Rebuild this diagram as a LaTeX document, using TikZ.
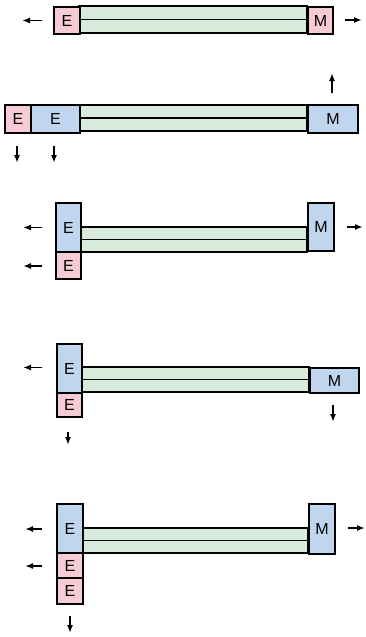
\documentclass[tikz,border=0pt]{standalone}
\usepackage{fontspec}
\setmainfont{Liberation Sans}
\usetikzlibrary{arrows.meta}
\definecolor{pinkE}{HTML}{F6CBD6}
\definecolor{blueE}{HTML}{C0D6EF}
\definecolor{greenB}{HTML}{D7EADB}
\tikzset{
  box/.style={draw=black, line width=2.1pt, inner sep=0pt, anchor=north west, font=\fontsize{16}{16}\selectfont},
  pinkbox/.style={box, fill=pinkE},
  bluebox/.style={box, fill=blueE},
  barfill/.style={fill=greenB, draw=black, line width=1.9pt},
  barmid/.style={draw=black, line width=1.9pt},
  force/.style={draw=black, line width=1.6pt, -{Latex[length=8pt,width=6pt]}}
}
\begin{document}
\begin{tikzpicture}[x=1pt,y=-1pt]
\useasboundingbox (0,0) rectangle (366,637);
% ---------- Panel 1 ----------
\draw[barfill] (79,6) rectangle (307,33);
\draw[barmid] (79,19.5) -- (307,19.5);
\node[pinkbox, minimum width=26pt, minimum height=27pt] (a1) at (53,6) {E};
\node[pinkbox, minimum width=25pt, minimum height=27pt] (am) at (307,6) {M};
\coordinate (a1s) at (42,20.5); \coordinate (a1t) at (22,20.5);
\coordinate (ams) at (345,20); \coordinate (amt) at (362,20);
\draw[force] (a1s) -- (a1t);
\draw[force] (ams) -- (amt);
% ---------- Panel 2 ----------
\draw[barfill] (79,105) rectangle (307,131);
\draw[barmid] (79,118) -- (307,118);
\node[pinkbox, minimum width=26pt, minimum height=28pt] (b1) at (4,104) {E};
\node[bluebox, minimum width=49pt, minimum height=28pt] (b2) at (30,104) {E};
\node[bluebox, minimum width=50pt, minimum height=28pt] (bm) at (307,104) {M};
\coordinate (bms) at (332,93); \coordinate (bmt) at (332,73);
\coordinate (b1s) at (17,146); \coordinate (b1t) at (17,163);
\coordinate (b2s) at (54,146); \coordinate (b2t) at (54,163);
\draw[force] (bms) -- (bmt);
\draw[force] (b1s) -- (b1t);
\draw[force] (b2s) -- (b2t);
% ---------- Panel 3 ----------
\draw[barfill] (80,227) rectangle (307,252);
\draw[barmid] (80,239.5) -- (307,239.5);
\node[bluebox, minimum width=25pt, minimum height=49pt] (c1) at (55,202) {E};
\node[pinkbox, minimum width=25pt, minimum height=27pt] (c2) at (55,251) {E};
\node[bluebox, minimum width=26pt, minimum height=48pt] (cm) at (307,202) {M};
\coordinate (c1s) at (42,227.5); \coordinate (c1t) at (23,227.5);
\coordinate (c2s) at (42,266); \coordinate (c2t) at (23,266);
\coordinate (cms) at (347,227); \coordinate (cmt) at (363,227);
\draw[force] (c1s) -- (c1t);
\draw[force] (c2s) -- (c2t);
\draw[force] (cms) -- (cmt);
% ---------- Panel 4 ----------
\draw[barfill] (81,367) rectangle (309,392);
\draw[barmid] (81,379.5) -- (309,379.5);
\node[bluebox, minimum width=25pt, minimum height=49pt] (d1) at (56,343) {E};
\node[pinkbox, minimum width=25pt, minimum height=24pt] (d2) at (56,392) {E};
\node[bluebox, minimum width=49pt, minimum height=25pt] (dm) at (309,367) {M};
\coordinate (d1s) at (42,367.5); \coordinate (d1t) at (23,367.5);
\coordinate (dms) at (333,405); \coordinate (dmt) at (333,422);
\coordinate (d2s) at (68,432); \coordinate (d2t) at (68,445);
\draw[force] (d1s) -- (d1t);
\draw[force] (dms) -- (dmt);
\draw[force] (d2s) -- (d2t);
% ---------- Panel 5 ----------
\draw[barfill] (82,528) rectangle (308,553);
\draw[barmid] (82,540.5) -- (308,540.5);
\node[bluebox, minimum width=26pt, minimum height=49pt] (e1) at (56,503) {E};
\node[pinkbox, minimum width=26pt, minimum height=25pt] (e2) at (56,552) {E};
\node[pinkbox, minimum width=26pt, minimum height=26pt] (e3) at (56,577) {E};
\node[bluebox, minimum width=26pt, minimum height=50pt] (em) at (308,503) {M};
\coordinate (e1s) at (42,529); \coordinate (e1t) at (25,529);
\coordinate (e2s) at (42,566); \coordinate (e2t) at (25,566);
\coordinate (ems) at (348,528); \coordinate (emt) at (365,528);
\coordinate (e3s) at (70,616); \coordinate (e3t) at (70,633);
\draw[force] (e1s) -- (e1t);
\draw[force] (e2s) -- (e2t);
\draw[force] (ems) -- (emt);
\draw[force] (e3s) -- (e3t);
\end{tikzpicture}
\end{document}
